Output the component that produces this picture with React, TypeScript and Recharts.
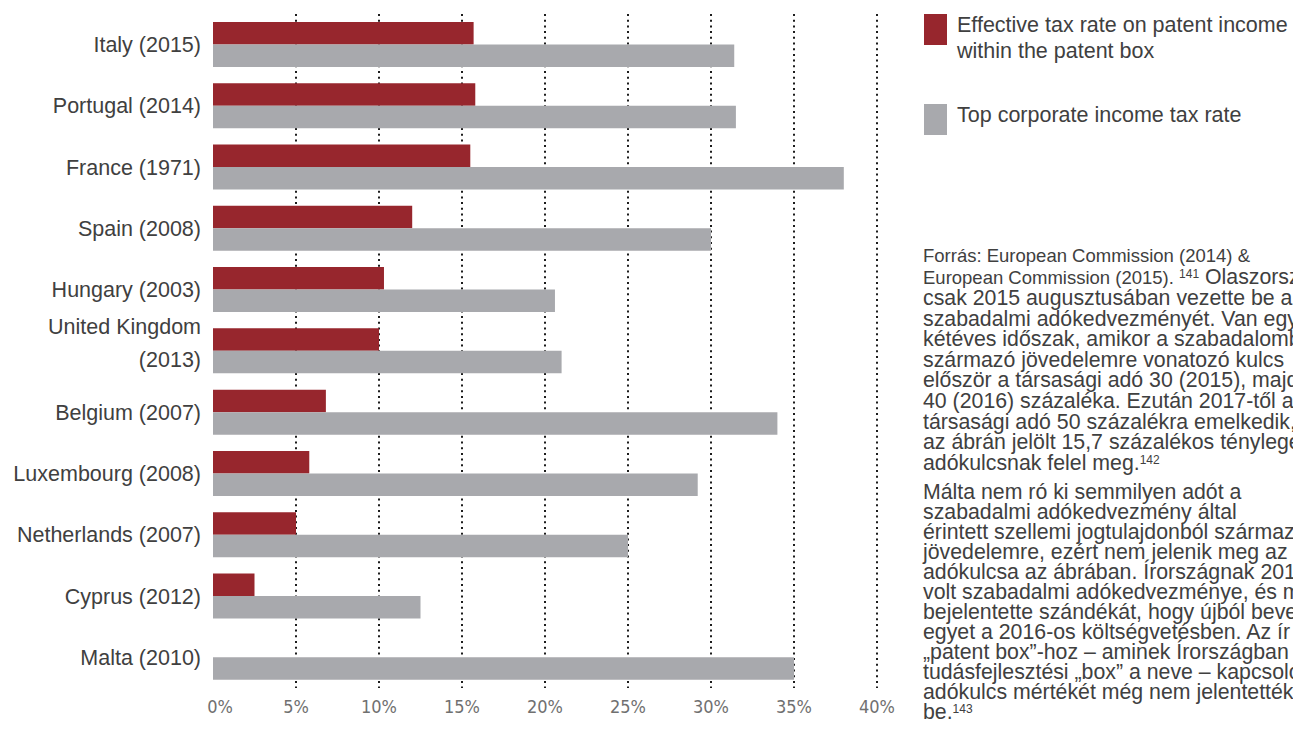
import React from 'react';
import {Bar, BarChart, CartesianGrid, Legend, XAxis, YAxis} from 'recharts';

const countries = [
    'Italy (2015)',
    'Portugal (2014)',
    'France (1971)',
    'Spain (2008)',
    'Hungary (2003)',
    'United Kingdom\n(2013)',
    'Belgium (2007)',
    'Luxembourg (2008)',
    'Netherlands (2007)',
    'Cyprus (2012)',
    'Malta (2010)',
];
const patentBoxRate = [15.7, 15.8, 15.5, 12, 10.3, 10, 6.8, 5.8, 5, 2.5, 0];
const corporateRate = [31.4, 31.5, 38, 30, 20.6, 21, 34, 29.2, 25, 12.5, 35];
const xTicks = [0, 5, 10, 15, 20, 25, 30, 35, 40];
const gridValues = [5, 10, 15, 20, 25, 30, 35, 40];

const seriesNames = [
    'Effective tax rate on patent income\nwithin the patent box',
    'Top corporate income tax rate',
];

const sourceHead = ['Forrás: European Commission (2014) &', 'European Commission (2015).'];
const sourceNote1 = '141';
const sourcePara1 = [
    ' Olaszország',
    'csak 2015 augusztusában vezette be a',
    'szabadalmi adókedvezményét. Van egy',
    'kétéves időszak, amikor a szabadalomból',
    'származó jövedelemre vonatozó kulcs',
    'először a társasági adó 30 (2015), majd',
    '40 (2016) százaléka. Ezután 2017-től a',
    'társasági adó 50 százalékra emelkedik, ami',
    'az ábrán jelölt 15,7 százalékos tényleges',
    'adókulcsnak felel meg.',
];
const sourceNote2 = '142';
const sourcePara2 = [
    'Málta nem ró ki semmilyen adót a',
    'szabadalmi adókedvezmény által',
    'érintett szellemi jogtulajdonból származó',
    'jövedelemre, ezért nem jelenik meg az',
    'adókulcsa az ábrában. Írországnak 2010-ig',
    'volt szabadalmi adókedvezménye, és most',
    'bejelentette szándékát, hogy újból bevezet',
    'egyet a 2016-os költségvetésben. Az ír',
    '„patent box”-hoz – aminek Írországban',
    'tudásfejlesztési „box” a neve – kapcsolódó',
    'adókulcs mértékét még nem jelentették',
    'be.',
];
const sourceNote3 = '143';

const data = countries.map((name, i) => ({
    name,
    patent: patentBoxRate[i],
    corporate: corporateRate[i],
}));

const FONT = '"Liberation Sans", Arial, Helvetica, sans-serif';
const TEXT_COLOR = '#404040';

const CountryTick = ({x, y, payload}: any) => {
    const lines = String(payload.value).split('\n');
    const style = {fontFamily: FONT, fontSize: 21.5, fill: TEXT_COLOR};
    if (lines.length === 1) {
        return (
            <text x={x} y={y} dy={7.5} textAnchor="end" {...style}>
                {lines[0]}
            </text>
        );
    }
    return (
        <text x={x} y={y} textAnchor="end" {...style}>
            <tspan x={x} dy={-17}>{lines[0]}</tspan>
            <tspan x={x} dy={33}>{lines[1]}</tspan>
        </text>
    );
};

const PercentTick = ({x, y, payload, index}: any) => (
    <text
        x={x}
        y={y}
        dx={index === 0 ? 7 : 0}
        dy={25}
        textAnchor="middle"
        fontFamily='"DejaVu Sans Condensed", "DejaVu Sans", sans-serif'
        fontSize={18}
        fill="#707070"
    >
        {`${payload.value}%`}
    </text>
);

const LegendContent = ({payload}: any) => (
    <div style={{fontFamily: FONT, fontSize: 21.5, lineHeight: '26.5px', color: TEXT_COLOR, textAlign: 'left'}}>
        {(payload || []).map((entry: any, i: number) => (
            <div key={`item-${i}`} style={{display: 'flex', alignItems: 'flex-start', marginBottom: i === 0 ? 37 : 0}}>
                <div style={{width: 23, height: 31, marginTop: 2.5, background: entry.color, flex: 'none'}}/>
                <div style={{marginLeft: 10, whiteSpace: 'pre'}}>{entry.value}</div>
            </div>
        ))}
    </div>
);

const sup = {fontSize: 12, verticalAlign: 'top', lineHeight: '14px'} as const;

const SourceNote = () => (
    <div
        style={{
            position: 'absolute',
            left: 923,
            top: 245,
            fontFamily: FONT,
            color: TEXT_COLOR,
            whiteSpace: 'nowrap',
        }}
    >
        <div style={{fontSize: 18.5, height: 22, lineHeight: '22px'}}>{sourceHead[0]}</div>
        <div style={{fontSize: 21.3, height: 21, lineHeight: '21px'}}>
            <span style={{fontSize: 18.5}}>{sourceHead[1]} </span>
            <span style={sup}>{sourceNote1}</span>
            {sourcePara1[0]}
        </div>
        {sourcePara1.slice(1).map((line, i, arr) => (
            <div key={`p1-${i}`} style={{fontSize: 21.3, height: 20.6, lineHeight: '20.6px'}}>
                {line}
                {i === arr.length - 1 ? <span style={sup}>{sourceNote2}</span> : null}
            </div>
        ))}
        <div style={{height: 8.3}}/>
        {sourcePara2.map((line, i, arr) => (
            <div key={`p2-${i}`} style={{fontSize: 21.3, height: 20.05, lineHeight: '20.05px'}}>
                {line}
                {i === arr.length - 1 ? <span style={sup}>{sourceNote3}</span> : null}
            </div>
        ))}
    </div>
);

const App = () => {
    return (
        <div
            style={{
                position: 'absolute',
                left: 0,
                top: 0,
                width: 1293,
                height: 735,
                overflow: 'hidden',
                background: '#ffffff',
            }}
        >
            <BarChart
                width={1293}
                height={735}
                data={data}
                layout="vertical"
                margin={{top: 14, right: 416, bottom: 0, left: 0}}
                barGap={0}
                barSize={22.5}
            >
                <CartesianGrid
                    horizontal={false}
                    verticalValues={gridValues}
                    stroke="#1c1c1c"
                    strokeWidth={2}
                    strokeDasharray="2 3.7"
                />
                <XAxis
                    type="number"
                    domain={[0, 40]}
                    ticks={xTicks}
                    axisLine={false}
                    tickLine={false}
                    tickSize={0}
                    tickMargin={0}
                    height={47}
                    interval={0}
                    tick={<PercentTick/>}
                />
                <YAxis
                    type="category"
                    dataKey="name"
                    width={213}
                    axisLine={false}
                    tickLine={false}
                    tickSize={0}
                    tickMargin={12}
                    interval={0}
                    tick={<CountryTick/>}
                />
                <Legend
                    layout="horizontal"
                    verticalAlign="middle"
                    align="center"
                    content={<LegendContent/>}
                    wrapperStyle={{left: 924, top: 11.5, width: 369}}
                />
                <Bar dataKey="patent" name={seriesNames[0]} fill="#97262d" isAnimationActive={false}/>
                <Bar dataKey="corporate" name={seriesNames[1]} fill="#a8a9ad" isAnimationActive={false}/>
            </BarChart>
            <SourceNote/>
        </div>
    );
};

export default App;
